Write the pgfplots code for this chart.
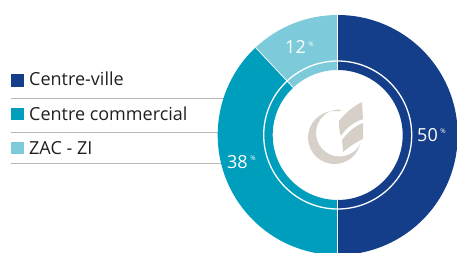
\documentclass[border=0pt]{standalone}
\usepackage{fontspec}
\setmainfont{Open Sans}
\usepackage{pgfplots}
\usepackage{pgfplotstable}
\pgfplotsset{compat=1.18}

\definecolor{cvblue}{RGB}{20,62,138}
\definecolor{ccteal}{RGB}{0,158,189}
\definecolor{zaclight}{RGB}{125,203,218}
\definecolor{logogray}{RGB}{214,208,200}
\definecolor{sepgray}{RGB}{188,181,176}
\definecolor{txt}{RGB}{35,31,32}

\pgfplotstableread{
value
50
38
12
}\donutdata

\newcommand{\lblfont}{\fontsize{18bp}{21bp}\selectfont}
\newcommand{\pct}{\hspace{2.5bp}\raisebox{7.5bp}{\fontsize{6.5bp}{7bp}\selectfont\%}}
\newcommand{\ringslice}[3]{%
  \fill[#1] (axis cs:337.7,135) ++(#2:120bp) arc[start angle=#2, end angle=#3, radius=120bp]
    -- ++(#3:-55bp) arc[start angle=#3, end angle=#2, radius=65bp] -- cycle;}
\newcommand{\ringsep}[1]{%
  \draw[white, line width=0.7bp] (axis cs:337.7,135) ++(#1:65bp) -- ++(#1:55bp);}

\begin{document}
\begin{tikzpicture}
\clip (0,0) rectangle (457bp,253bp);
\pgfplotstablegetelem{0}{value}\of\donutdata \pgfmathsetmacro{\va}{\pgfplotsretval}
\pgfplotstablegetelem{1}{value}\of\donutdata \pgfmathsetmacro{\vb}{\pgfplotsretval}
\pgfplotstablegetelem{2}{value}\of\donutdata \pgfmathsetmacro{\vc}{\pgfplotsretval}
\pgfmathsetmacro{\aA}{90}
\pgfmathsetmacro{\aB}{90-3.6*\va}
\pgfmathsetmacro{\aC}{\aB-3.6*\vb}
\pgfmathsetmacro{\aD}{\aC-3.6*\vc}
\begin{axis}[
  at={(0,0)}, anchor=south west,
  width=457bp, height=253bp, scale only axis,
  xmin=0, xmax=457, ymin=0, ymax=253, y dir=reverse,
  hide axis, clip=false]
% legend separators
\draw[sepgray, line width=1.1bp] (axis cs:11,98.3) -- (axis cs:240,98.3);
\draw[sepgray, line width=1.1bp] (axis cs:11,132.3) -- (axis cs:240,132.3);
\draw[sepgray, line width=1.1bp] (axis cs:11,163.3) -- (axis cs:240,163.3);
% donut
\ringslice{cvblue}{\aA}{\aB}
\ringslice{ccteal}{\aB}{\aC}
\ringslice{zaclight}{\aC}{\aD}
\ringsep{\aA}\ringsep{\aB}\ringsep{\aC}
\draw[white, line width=1.3bp] (axis cs:337.7,135) circle[radius=74bp];
% logo
\fill[logogray] (axis cs:339.1,111.4) arc[start angle=80, end angle=340, radius=26.5bp]
  -- (axis cs:360.8,142.9) arc[start angle=335, end angle=85, radius=23.5bp] -- cycle;
\fill[logogray] (axis cs:339,121) .. controls (axis cs:346,112) and (axis cs:354,106) .. (axis cs:362,102)
  -- (axis cs:363,119) .. controls (axis cs:354,122) and (axis cs:346,128) .. (axis cs:341,136)
  .. controls (axis cs:339,131) and (axis cs:339,126) .. (axis cs:339,121) -- cycle;
\fill[logogray] (axis cs:342,140) .. controls (axis cs:348,132) and (axis cs:355,126) .. (axis cs:363,123)
  -- (axis cs:363,139) .. controls (axis cs:356,142) and (axis cs:349,147) .. (axis cs:343,152) -- cycle;
% value labels
\node[white, anchor=base west, inner sep=0, font=\lblfont] at (axis cs:417,141) {50\pct};
\node[white, anchor=base west, inner sep=0, font=\lblfont] at (axis cs:227,168.3) {38\pct};
\node[white, anchor=base west, inner sep=0, font=\lblfont] at (axis cs:285,54) {12\pct};
% legend
\fill[cvblue] (axis cs:11,74) rectangle (axis cs:24,86.5);
\fill[ccteal] (axis cs:11,107.5) rectangle (axis cs:24,120);
\fill[zaclight] (axis cs:11,141.5) rectangle (axis cs:24,154);
\node[txt, anchor=base west, inner sep=0, font=\lblfont] at (axis cs:29,86) {Centre-ville};
\node[txt, anchor=base west, inner sep=0, font=\lblfont] at (axis cs:29,120) {Centre commercial};
\node[txt, anchor=base west, inner sep=0, font=\lblfont] at (axis cs:29,154) {ZAC - ZI};
\end{axis}
\end{tikzpicture}
\end{document}
